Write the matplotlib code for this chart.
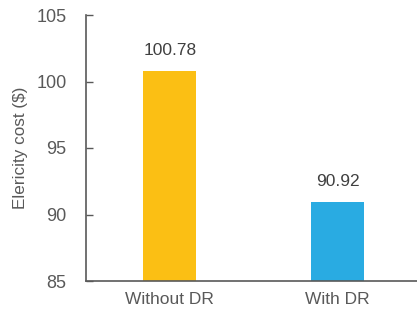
import matplotlib
matplotlib.use("Agg")
import matplotlib.pyplot as plt

categories = ["Without DR", "With DR"]
values = [100.78, 90.92]
colors = ["#FBBF14", "#29ABE2"]
yticks = [85, 90, 95, 100, 105]

plt.rcParams['font.family'] = ['Liberation Sans', 'DejaVu Sans']
fig = plt.figure(figsize=(4.17, 3.2), dpi=100)
ax = fig.add_axes([86/417, 1-281/320, 1-86/417, (281-15)/320])
x = list(range(len(categories)))
ax.bar(x, [v - 85 for v in values], bottom=85, width=0.315, color=colors)
for xi, v in zip(x, values):
    ax.text(xi, v + 1.0, f"{v:.2f}", ha="center", va="bottom", fontsize=12.5, color="#404040")
ax.set_ylim(85, 105)
ax.set_xlim(-0.5, 1.473)
ax.set_yticks(yticks)
ax.set_xticks(x)
ax.set_xticklabels(categories)
ax.tick_params(axis='x', length=0, pad=8, labelsize=12.5, labelcolor="#595959")
ax.tick_params(axis='y', direction='in', length=5, width=1, color="#595959", labelsize=13, labelcolor="#595959", pad=14)
for s in ["top", "right"]:
    ax.spines[s].set_visible(False)
for s in ["left", "bottom"]:
    ax.spines[s].set_color("#595959")
    ax.spines[s].set_linewidth(1.2)
ax.set_ylabel("Elericity cost ($)", fontsize=12.3, color="#595959", labelpad=6)
fig.savefig("out.png", dpi=100)
